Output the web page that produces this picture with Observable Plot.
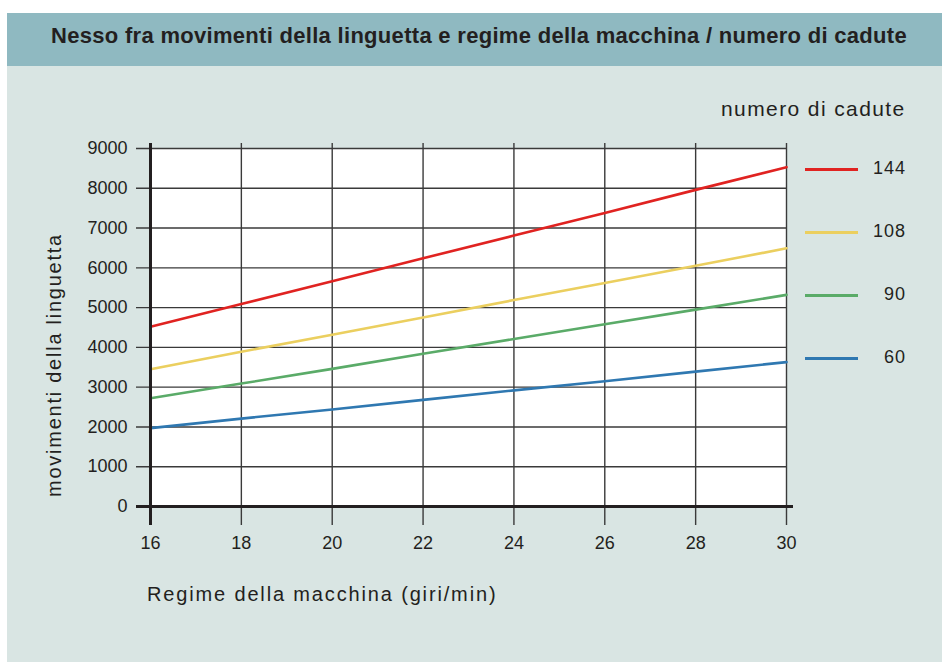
<!DOCTYPE html>
<html>
<head>
<meta charset="utf-8">
<script src="https://cdn.jsdelivr.net/npm/d3@7"></script>
<script src="https://cdn.jsdelivr.net/npm/@observablehq/plot@0.6"></script>
<style>
  html, body { margin: 0; padding: 0; background: #ffffff; }
  #wrap { position: relative; width: 942px; height: 662px; overflow: hidden; font-family: "Liberation Sans", Arial, sans-serif; color: #231f20; }
  #panel { position: absolute; left: 7px; top: 13px; width: 935px; height: 649px; background: #d9e5e3; }
  #header { position: absolute; left: 7px; top: 13px; width: 935px; height: 53px; background: #8fb9c1; }
  #title { position: absolute; left: 51px; top: 23px; font-size: 22px; font-weight: bold; letter-spacing: 0.3px; white-space: nowrap; line-height: 26px; }
  #legtitle { position: absolute; left: 721px; top: 96px; font-size: 21px; letter-spacing: 1.4px; white-space: nowrap; line-height: 26px; }
  #xtitle { position: absolute; left: 147px; top: 582px; font-size: 20px; letter-spacing: 1.85px; white-space: nowrap; line-height: 24px; }
  #ytitle { position: absolute; left: 62px; top: 365px; font-size: 20px; letter-spacing: 1.75px; white-space: nowrap; line-height: 24px; transform-origin: 0 0; }
  #chart { position: absolute; left: 0; top: 0; }
  .leg { position: absolute; left: 805px; width: 101px; height: 26px; }
  .leg .sw { position: absolute; left: 0; top: 13px; width: 53px; height: 3px; }
  .leg .lab { position: absolute; right: 0; top: 0; font-size: 18px; letter-spacing: 1px; line-height: 26px; }
</style>
</head>
<body>
<div id="wrap">
  <div id="panel"></div>
  <div id="header"></div>
  <div id="title">Nesso fra movimenti della linguetta e regime della macchina / numero di cadute</div>
  <div id="legtitle">numero di cadute</div>
  <div id="chart"></div>
  <div id="xtitle">Regime della macchina (giri/min)</div>
  <div id="ytitle">movimenti della linguetta</div>
  <div id="legend"></div>
</div>
<script>
// ---- data ----
const speeds = [16, 18, 20, 22, 24, 26, 28, 30];
const series = ["144", "108", "90", "60"];
const cadute144 = [4520, 5090, 5660, 6240, 6810, 7380, 7960, 8530];
const cadute108 = [3450, 3890, 4320, 4750, 5190, 5620, 6050, 6490];
const cadute90  = [2720, 3090, 3460, 3840, 4210, 4580, 4950, 5320];
const cadute60  = [1970, 2210, 2440, 2680, 2920, 3150, 3390, 3630];
const yTicks = [0, 1000, 2000, 3000, 4000, 5000, 6000, 7000, 8000, 9000];
const xTicks = [16, 18, 20, 22, 24, 26, 28, 30];
const palette = ["#e02321", "#ebcf5f", "#5aab68", "#2f78b1"];

const valuesBySeries = {"144": cadute144, "108": cadute108, "90": cadute90, "60": cadute60};
const data = series.flatMap(s => speeds.map((x, i) => ({series: s, x, y: valuesBySeries[s][i]})));

const gridColor = "#3a3a3a";
const tickFont = "18px";

const chart = Plot.plot({
  width: 942,
  height: 662,
  marginLeft: 150,
  marginRight: 156,
  marginTop: 148,
  marginBottom: 156,
  style: {background: "transparent", fontFamily: "'Liberation Sans', Arial, sans-serif", color: "#231f20", overflow: "visible"},
  x: {domain: [16, 30]},
  y: {domain: [0, 9000]},
  color: {domain: series, range: palette},
  marks: [
    Plot.frame({fill: "white", stroke: null}),
    Plot.ruleX(xTicks.slice(1), {stroke: gridColor, strokeWidth: 1.4, insetTop: -5, insetBottom: -19}),
    Plot.ruleY(yTicks.slice(1), {stroke: gridColor, strokeWidth: 1.4, insetLeft: -14}),
    Plot.line(data, {x: "x", y: "y", z: "series", stroke: "series", strokeWidth: 2.6}),
    Plot.ruleX([xTicks[0]], {stroke: "#231f20", strokeWidth: 3, insetTop: -5, insetBottom: -19}),
    Plot.ruleY([yTicks[0]], {stroke: "#231f20", strokeWidth: 3.2, insetLeft: -14, insetRight: -7}),
    Plot.axisX(xTicks, {anchor: "bottom", tickSize: 0, tickPadding: 30, label: null, tickFormat: d => String(d), fontSize: tickFont, fill: "#231f20", style: {letterSpacing: "0.8px"}}),
    Plot.axisY(yTicks, {anchor: "left", tickSize: 0, tickPadding: 23, label: null, tickFormat: d => String(d), fontSize: tickFont, fill: "#231f20", style: {letterSpacing: "1px"}})
  ]
});
document.getElementById("chart").appendChild(chart);

// y title rotation
const yt = document.getElementById("ytitle");
const w = yt.getBoundingClientRect().width;
yt.style.transform = `translate(-20px, ${w / 2}px) rotate(-90deg)`;

// legend
const legend = document.getElementById("legend");
series.forEach((s, i) => {
  const d = document.createElement("div");
  d.className = "leg";
  d.style.top = (155 + i * 63) + "px";
  d.innerHTML = `<div class="sw" style="background:${palette[i]}"></div><div class="lab">${s}</div>`;
  legend.appendChild(d);
});
</script>
</body>
</html>
